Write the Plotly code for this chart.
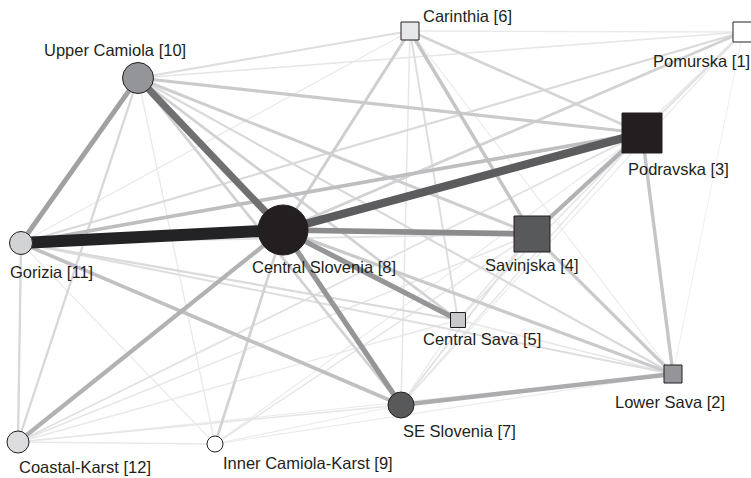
import numpy as np
import plotly.graph_objects as go

# ---- Nodes (regions) ----
node_names = ["Pomurska [1]", "Lower Sava [2]", "Podravska [3]", "Savinjska [4]",
              "Central Sava [5]", "Carinthia [6]", "SE Slovenia [7]", "Central Slovenia [8]",
              "Inner Camiola-Karst [9]", "Upper Camiola [10]", "Gorizia [11]", "Coastal-Karst [12]"]
node_keys = ["POM", "LSA", "POD", "SAV", "CSA", "CAR", "SES", "CSL", "ICK", "UCA", "GOR", "COK"]
node_x = [743, 673, 642, 532, 458, 410, 401, 283, 215, 138, 21, 18]
node_y = [32, 374, 133, 234, 320, 31, 405, 230, 444, 78, 243, 442]
node_shape = ["square", "square", "square", "square", "square", "square",
              "circle", "circle", "circle", "circle", "circle", "circle"]
node_size = [20, 18, 40, 36, 15, 18, 26, 50, 16, 31, 23, 22]
node_fill = ["#ffffff", "#939598", "#231f20", "#58595b", "#c7c8ca", "#e6e7e8",
             "#58595b", "#231f20", "#ffffff", "#939598", "#d1d3d4", "#dcddde"]

# label placement (left x, middle y)
label_x = [652, 614, 627, 484, 422, 422, 402, 251, 222, 43, 9, 18]
label_y = [61, 402, 169, 265, 339, 16, 431, 267, 463, 50, 272, 467]

# ---- Edges (source, target, link strength) ----
edge_src = ["GOR", "CSL", "UCA", "CSL", "CSL", "CSL", "UCA", "SES", "COK", "SAV",
            "GOR", "GOR", "CAR", "POD", "SAV", "CSL", "UCA", "UCA", "UCA", "UCA",
            "CAR", "POM", "ICK", "CAR", "GOR", "COK", "GOR", "GOR", "GOR", "CAR",
            "UCA", "UCA", "CAR", "POM", "UCA", "GOR", "GOR", "COK", "COK", "COK",
            "COK", "COK", "COK", "ICK", "ICK", "ICK", "CAR", "SES", "SES", "SES",
            "SES", "CSA", "CSA", "CSA", "POM", "POM", "POM", "UCA", "GOR", "CAR",
            "ICK"]
edge_dst = ["CSL", "POD", "CSL", "SAV", "CSA", "SES", "GOR", "LSA", "CSL", "POD",
            "SES", "POD", "SAV", "LSA", "LSA", "LSA", "POD", "SAV", "CSA", "SES",
            "CSL", "CSL", "CSL", "POD", "COK", "UCA", "POM", "CSA", "LSA", "CSA",
            "CAR", "POM", "POM", "POD", "ICK", "ICK", "CAR", "ICK", "SES", "CSA",
            "SAV", "LSA", "POD", "SAV", "SES", "LSA", "SES", "SAV", "POD", "POM",
            "CSA", "SAV", "LSA", "POD", "SAV", "LSA", "CSA", "LSA", "SAV", "LSA",
            "POD"]
edge_w = [10, 8, 7, 5.5, 5, 5, 4.6, 4.2, 4, 4,
          3.4, 3.5, 3.2, 3.2, 3, 3, 3, 2.8, 2.6, 2.6,
          2.8, 2.6, 2.6, 2.5, 2.3, 2.3, 2.2, 2.2, 2.0, 2.0,
          2.0, 1.5, 1.3, 1.8, 1.3, 1.2, 1.3, 1.3, 1.5, 1.3,
          1.5, 1.2, 1.8, 1.5, 1.2, 1.2, 1.5, 1.8, 1.5, 1.2,
          1.3, 1.5, 1.5, 1.5, 1.3, 1.0, 1.0, 2.2, 1.8, 1.2,
          1.2]

# style mapping from link strength
w_anchor = [1, 2, 3, 4, 5, 7, 8, 10]
width_anchor = [1.0, 2.0, 3.2, 4.2, 5.2, 7.0, 8.2, 12.0]
gray_anchor = [238, 222, 202, 178, 150, 112, 92, 35]

pos = {k: (x, y) for k, x, y in zip(node_keys, node_x, node_y)}

fig = go.Figure()
order = np.argsort(edge_w, kind="stable")
for i in order:
    w = edge_w[i]
    s, t = edge_src[i], edge_dst[i]
    lw = float(np.interp(w, w_anchor, width_anchor))
    g = int(round(np.interp(w, w_anchor, gray_anchor)))
    col = f"rgb({g},{g},{min(g+2,255)})"
    fig.add_trace(go.Scatter(
        x=[pos[s][0], pos[t][0]], y=[pos[s][1], pos[t][1]],
        mode="lines", line=dict(color=col, width=lw),
        hoverinfo="skip", showlegend=False))

fig.add_trace(go.Scatter(
    x=node_x, y=node_y, mode="markers",
    marker=dict(symbol=node_shape, size=node_size, color=node_fill,
                line=dict(color="#231f20", width=1), opacity=1),
    text=node_names, hoverinfo="text", showlegend=False))

for name, lx, ly in zip(node_names, label_x, label_y):
    fig.add_annotation(x=lx, y=ly, xref="x", yref="y", text=name,
                       showarrow=False, xanchor="left", yanchor="middle",
                       font=dict(family="Liberation Sans, Arial, sans-serif",
                                 size=16.5, color="#231f20"),
                       borderpad=0)

fig.update_layout(
    width=751, height=478,
    margin=dict(l=0, r=0, t=0, b=0),
    paper_bgcolor="white", plot_bgcolor="white",
    xaxis=dict(range=[0, 751], visible=False, showgrid=False, zeroline=False, fixedrange=True),
    yaxis=dict(range=[478, 0], visible=False, showgrid=False, zeroline=False, fixedrange=True),
)

fig.write_html("out.html", config={"displayModeBar": False},
               post_script="document.body.style.margin='0';document.body.style.overflow='hidden';")
